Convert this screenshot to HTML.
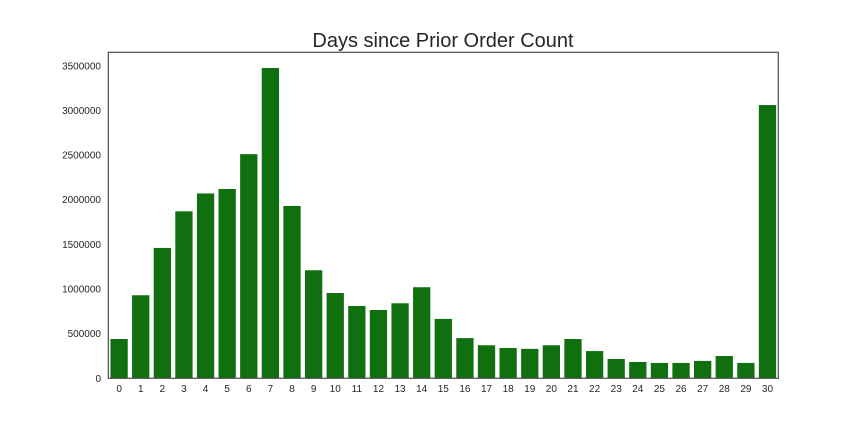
<!DOCTYPE html>
<html><head><meta charset="utf-8"><style>
html,body{margin:0;padding:0;background:#fff;}
svg{display:block;font-family:"Liberation Sans",Arial,sans-serif;}
</style></head><body>
<svg id="chart" width="864" height="432">
<text x="443" y="47" text-anchor="middle" font-size="20" fill="#262626">Days since Prior Order Count</text>
<g id="bars"></g>
<g id="yticks"></g>
<g id="xticks"></g>
<rect x="108.3" y="52.3" width="670" height="326" fill="none" stroke="#4d4d4d" stroke-width="1.2"/>
</svg>
<script>
const categories = [0,1,2,3,4,5,6,7,8,9,10,11,12,13,14,15,16,17,18,19,20,21,22,23,24,25,26,27,28,29,30];
const counts = [440000,930000,1460000,1870000,2070000,2120000,2510000,3475000,1930000,1210000,955000,810000,765000,840000,1020000,665000,450000,370000,340000,330000,370000,440000,305000,216000,183000,172000,172000,195000,250000,172000,3060000];
const yTicks = [0,500000,1000000,1500000,2000000,2500000,3000000,3500000];
const L=108.3,R=778.3,T=52.3,B=378.3;
const yMax=(B-T)/89.3*1e6;
const ns="http://www.w3.org/2000/svg";
function y(v){return B-(v/yMax)*(B-T);}
const slot=(R-L)/categories.length;
function x(i){return L+slot*(i+0.5);}
const bars=document.getElementById('bars'),xg=document.getElementById('xticks'),yg=document.getElementById('yticks');
categories.forEach((c,i)=>{
  const r=document.createElementNS(ns,'rect');
  r.setAttribute('x',x(i)-slot*0.4);r.setAttribute('width',slot*0.8);
  r.setAttribute('y',y(counts[i]));r.setAttribute('height',B-y(counts[i]));
  r.setAttribute('fill','#107010');
  
  
  bars.appendChild(r);
  const t=document.createElementNS(ns,'text');
  t.setAttribute('x',x(i));t.setAttribute('y',392);t.setAttribute('text-anchor','middle');
  t.setAttribute('font-size','10');t.setAttribute('fill','#262626');t.textContent=c;
  
  
  xg.appendChild(t);
});
yTicks.forEach(v=>{
  const t=document.createElementNS(ns,'text');
  t.setAttribute('x',101);t.setAttribute('y',y(v)+3.5);t.setAttribute('text-anchor','end');
  t.setAttribute('font-size','10');t.setAttribute('fill','#262626');t.textContent=v;
  
  
  yg.appendChild(t);
});
</script>
</body></html>
